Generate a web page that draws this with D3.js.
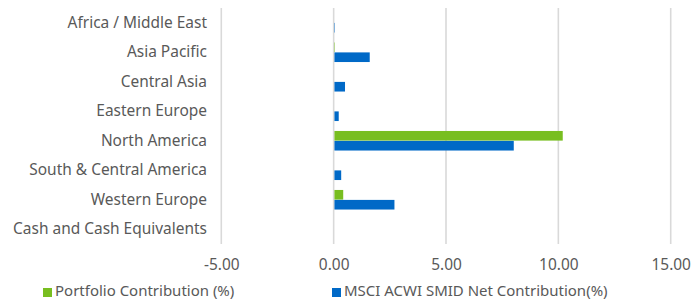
<!DOCTYPE html>
<html><head><meta charset="utf-8">
<script src="https://cdn.jsdelivr.net/npm/d3@7"></script>
<style>body{margin:0;background:#fff}svg{display:block}text{font-family:"Noto Sans",sans-serif;fill:#595959}</style>
</head><body>
<svg id="c" width="695" height="301"></svg>
<script>
const categories = ["Africa / Middle East","Asia Pacific","Central Asia","Eastern Europe","North America","South & Central America","Western Europe","Cash and Cash Equivalents"];
const portfolio = [0.0, 0.02, 0.0, 0.0, 10.16, 0.0, 0.39, 0.0];
const benchmark = [0.02, 1.57, 0.47, 0.19, 7.98, 0.30, 2.67, 0.0];
const seriesNames = ["Portfolio Contribution (%)","MSCI ACWI SMID Net Contribution(%)"];
const ticks = [-5, 0, 5, 10, 15];
const colors = ["#78BE20","#0069C7"];

const svg = d3.select("#c");
const x = d3.scaleLinear().domain([-5,15]).range([221.3,670.7]);
const y = d3.scaleBand().domain(categories).range([8,244]);
const y1 = d3.scaleBand().domain([0,1]).range([0,y.bandwidth()]).paddingInner(0.03).paddingOuter(0.5);

// font size fitted so the longest category label spans ~194px as in the reference
const probe = svg.append("text").style("font-size","14px").text(categories[7]);
const fs = 14 * 194 / probe.node().getComputedTextLength();
probe.remove();
const font = fs.toFixed(2) + "px";

svg.append("g").selectAll("line").data(ticks).join("line")
  .attr("x1",d=>x(d)).attr("x2",d=>x(d)).attr("y1",8).attr("y2",244)
  .attr("stroke","#d9d9d9").attr("stroke-width",1.6);

const data = categories.map((c,i)=>({c, v:[portfolio[i],benchmark[i]]}));
const g = svg.append("g");
data.forEach(d=>{
  d.v.forEach((v,j)=>{
    if(v===0) return;
    g.append("rect").attr("x",x(Math.min(0,v))+0.8).attr("y",y(d.c)+y1(j))
      .attr("width",Math.abs(x(v)-x(0))).attr("height",y1.bandwidth()).attr("fill",colors[j]);
  });
});

const fmt = d => d3.format(".2f")(d).replace("\u2212","-");
const ax = svg.append("g").attr("transform","translate(0,244)")
  .call(d3.axisBottom(x).tickValues(ticks).tickFormat(fmt).tickSize(0).tickPadding(15));
ax.select(".domain").remove();
ax.selectAll("text").style("font-size",font).style("fill","#595959").style("font-family","'Noto Sans',sans-serif");

const ay = svg.append("g").attr("transform","translate(207,0)")
  .call(d3.axisLeft(y).tickSize(0).tickPadding(0));
ay.select(".domain").remove();
ay.selectAll("text").style("font-size",font).style("fill","#595959").style("font-family","'Noto Sans',sans-serif");

const leg = svg.append("g");
const lx = [43, 332];
seriesNames.forEach((n,i)=>{
  leg.append("rect").attr("x",lx[i]).attr("y",288).attr("width",9).attr("height",9).attr("fill",colors[i]);
  leg.append("text").attr("x",lx[i]+12).attr("y",296).style("font-size",(fs*0.97).toFixed(2)+"px").text(n);
});
</script>
</body></html>
